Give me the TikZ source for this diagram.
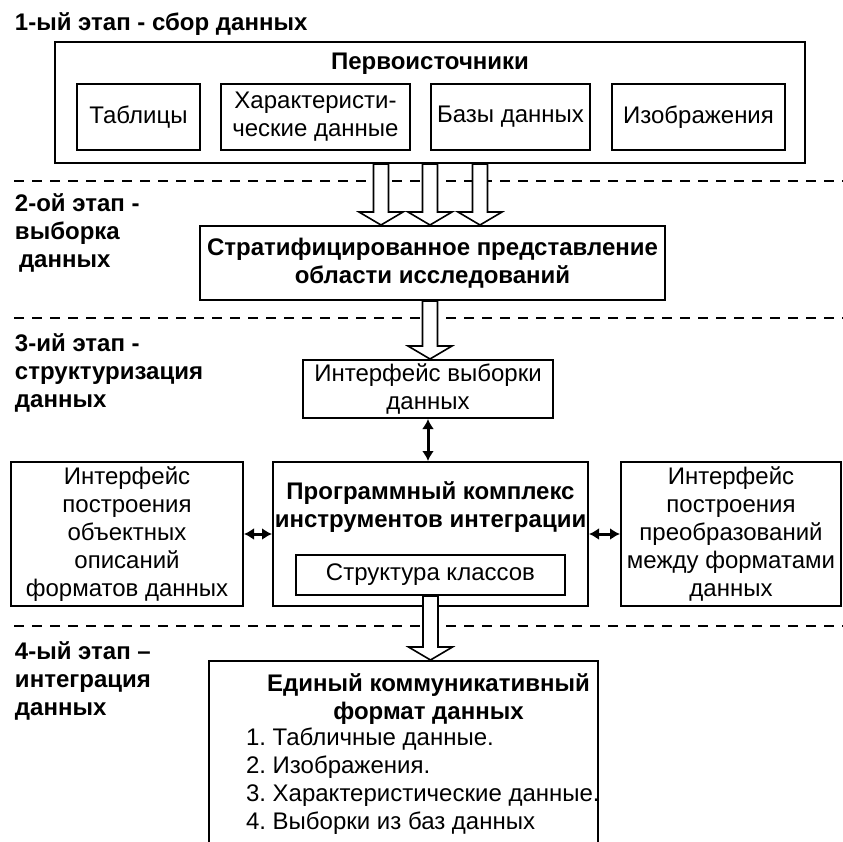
\documentclass[tikz,border=0pt]{standalone}
\usepackage{fontspec}
\setmainfont{Liberation Sans}
\usetikzlibrary{arrows.meta, positioning, calc}
\frenchspacing

% hollow block arrow: start point, target (tip on its y)
\newcommand{\hollowarrow}[2]{%
  \draw[hollow] let \p1=(#1), \p2=(#2) in
    (\x1-3.75pt,\y1) -- (\x1-3.75pt,\y2+6.5pt) -- (\x1-11pt,\y2+6.5pt) -- (\x1,\y2)
    -- (\x1+11pt,\y2+6.5pt) -- (\x1+3.75pt,\y2+6.5pt) -- (\x1+3.75pt,\y1) -- cycle;}

\begin{document}
\begin{tikzpicture}[
    x=0.5pt, y=-0.5pt,
    font=\fontsize{12}{14}\selectfont,
    line width=1pt,
    every node/.style={align=center, inner sep=0pt},
    box/.style={rectangle, draw},
    bold/.style={font=\fontsize{12}{14}\selectfont\bfseries},
    stagetitle/.style={anchor=north west, align=left, font=\fontsize{12}{14}\selectfont\bfseries},
    hollow/.style={draw, fill=white, line width=0.8pt},
    link/.style={{Latex[length=5pt,width=6pt]}-{Latex[length=5pt,width=6pt]}, line width=1.5pt},
    stageline/.style={dash pattern=on 5pt off 4pt, line width=0.8pt}
]
\clip (0,0) rectangle (843,842);

% ----------------------
% Stage 1
% ----------------------
\node[stagetitle] (t1) at (14,12) {1-ый этап - сбор данных};
\node[box, minimum width=375pt, minimum height=60.5pt] (src) at (430,102.5) {};
\node[bold] (srctitle) at (430,64) {Первоисточники};
\node[box, minimum width=61.5pt, minimum height=33pt] (tab) at (138.5,117) {Таблицы};
\node[box, minimum width=94.5pt, minimum height=33pt] (chr) at (315.5,117) {Характеристи-\\ческие данные};
\node[box, minimum width=79.5pt, minimum height=33pt] (dbs) at (510.5,117) {Базы данных};
\node[box, minimum width=86.5pt, minimum height=33pt] (img) at (698.5,117) {Изображения};

\draw[stageline] (14,181) -- (843,181);

% ----------------------
% Stage 2
% ----------------------
\node[stagetitle] (t2) at (14,193) {2-ой этап -\\выборка\\\hspace*{2pt}данных};
\node[box, bold, minimum width=232.5pt, minimum height=37pt] (strat) at (432.5,263)
    {Стратифицированное представление\\области исследований};

\hollowarrow{$(src.south)+(-49,0)$}{strat.north}
\hollowarrow{src.south}{strat.north}
\hollowarrow{$(src.south)+(50,0)$}{strat.north}

\draw[stageline] (14,318) -- (843,318);

% ----------------------
% Stage 3
% ----------------------
\node[stagetitle] (t3) at (14,333) {3-ий этап -\\структуризация\\данных};
\node[box, minimum width=125pt, minimum height=29pt] (sel) at (428,389) {Интерфейс выборки\\данных};
\hollowarrow{$(strat.south)+(-2.5,0)$}{sel.north}

\node[box, minimum width=157.5pt, minimum height=72pt] (cplx) at (430.5,534) {};
\node[bold] (cplxtitle) at (430.5,507) {Программный комплекс\\инструментов интеграции};
\node[box, minimum width=134.5pt, minimum height=20pt] (cls) at (430.5,575) {Структура классов};
\node[box, minimum width=116pt, minimum height=72pt] (obj) at (127,534)
    {Интерфейс\\построения\\объектных\\описаний\\форматов данных};
\node[box, minimum width=110pt, minimum height=72pt] (conv) at (731,534)
    {Интерфейс\\построения\\преобразований\\между форматами\\данных};

\draw[link] (sel.south) -- (sel.south |- cplx.north);
\draw[link] (obj.east) -- (cplx.west);
\draw[link] (cplx.east) -- (conv.west);

\draw[stageline] (14,626) -- (843,626);

% ----------------------
% Stage 4
% ----------------------
\node[stagetitle] (t4) at (14,641) {4-ый этап –\\интеграция\\данных};
\node[box, minimum width=194.5pt, minimum height=95.5pt] (fmt) at (403.5,756.5) {};
\node[bold] (fmthead) at (428.5,699) {Единый коммуникативный\\формат данных};
\node[anchor=north west, align=left] (fmtlist) at (245,727)
    {1. Табличные данные.\\2. Изображения.\\3. Характеристические данные.\\4. Выборки из баз данных};

\hollowarrow{cls.south}{fmt.north}

\end{tikzpicture}
\end{document}
